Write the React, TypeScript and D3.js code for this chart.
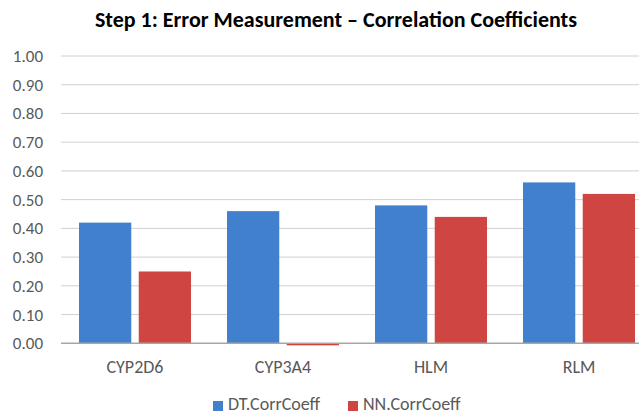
import React from "react";
import * as d3 from "d3";

const categories = ["CYP2D6", "CYP3A4", "HLM", "RLM"];
const seriesNames = ["DT.CorrCoeff", "NN.CorrCoeff"];
const dtValues = [0.42, 0.46, 0.48, 0.56];
const nnValues = [0.25, -0.007, 0.44, 0.52];
const yTicks = [0, 0.1, 0.2, 0.3, 0.4, 0.5, 0.6, 0.7, 0.8, 0.9, 1.0];
const title = "Step 1: Error Measurement \u2013 Correlation Coefficients";

const colors = ["#4180CC", "#CF4541"];
const font = "Carlito, 'Open Sans', 'Liberation Sans', sans-serif";

export default function App() {
  const W = 639, H = 415;
  const left = 61, right = 653, top = 56, bottom = 343.3;
  const x = d3.scaleBand<string>().domain(categories).range([left, right]);
  const inner = d3.scaleBand<string>().domain(seriesNames).range([18, x.bandwidth() - 18]).paddingInner(0.125);
  const y = d3.scaleLinear().domain([0, 1]).range([bottom, top]);
  const series = [dtValues, nnValues];

  return (
    <svg width={W} height={H} style={{ position: "absolute", left: 0, top: 0, background: "#fff" }}>
      <text x={336} y={27} textAnchor="middle" fontFamily={font} fontWeight="bold" fontSize={22} fill="#000">{title}</text>
      {yTicks.map((t) => (
        <g key={t}>
          {t !== 0 && <line x1={left} x2={W} y1={y(t)} y2={y(t)} stroke="#D0D0D0" strokeWidth={1} />}
          <text x={43} y={y(t) + 6} textAnchor="end" fontFamily={font} fontSize={17} fill="#595959">{t.toFixed(2)}</text>
        </g>
      ))}
      {categories.map((c, ci) =>
        series.map((vals, si) => {
          const v = vals[ci];
          const y0 = y(Math.max(0, v));
          const h = Math.abs(y(v) - y(0));
          return (
            <rect key={c + si} x={(x(c) as number) + (inner(seriesNames[si]) as number)} y={y0} width={inner.bandwidth()} height={Math.max(h, 1)} fill={colors[si]} />
          );
        })
      )}
      <line x1={left} x2={W} y1={y(0)} y2={y(0)} stroke="#A6A6A6" strokeWidth={1.5} />
      {categories.map((c) => (
        <text key={c} x={(x(c) as number) + x.bandwidth() / 2} y={373} textAnchor="middle" fontFamily={font} fontSize={18} fill="#595959">{c}</text>
      ))}
      {seriesNames.map((s, i) => (
        <g key={s} transform={`translate(${i === 0 ? 213 : 348},0)`}>
          <rect x={0} y={401} width={10} height={10} fill={colors[i]} />
          <text x={15} y={410} fontFamily={font} fontSize={18} fill="#595959">{s}</text>
        </g>
      ))}
    </svg>
  );
}
